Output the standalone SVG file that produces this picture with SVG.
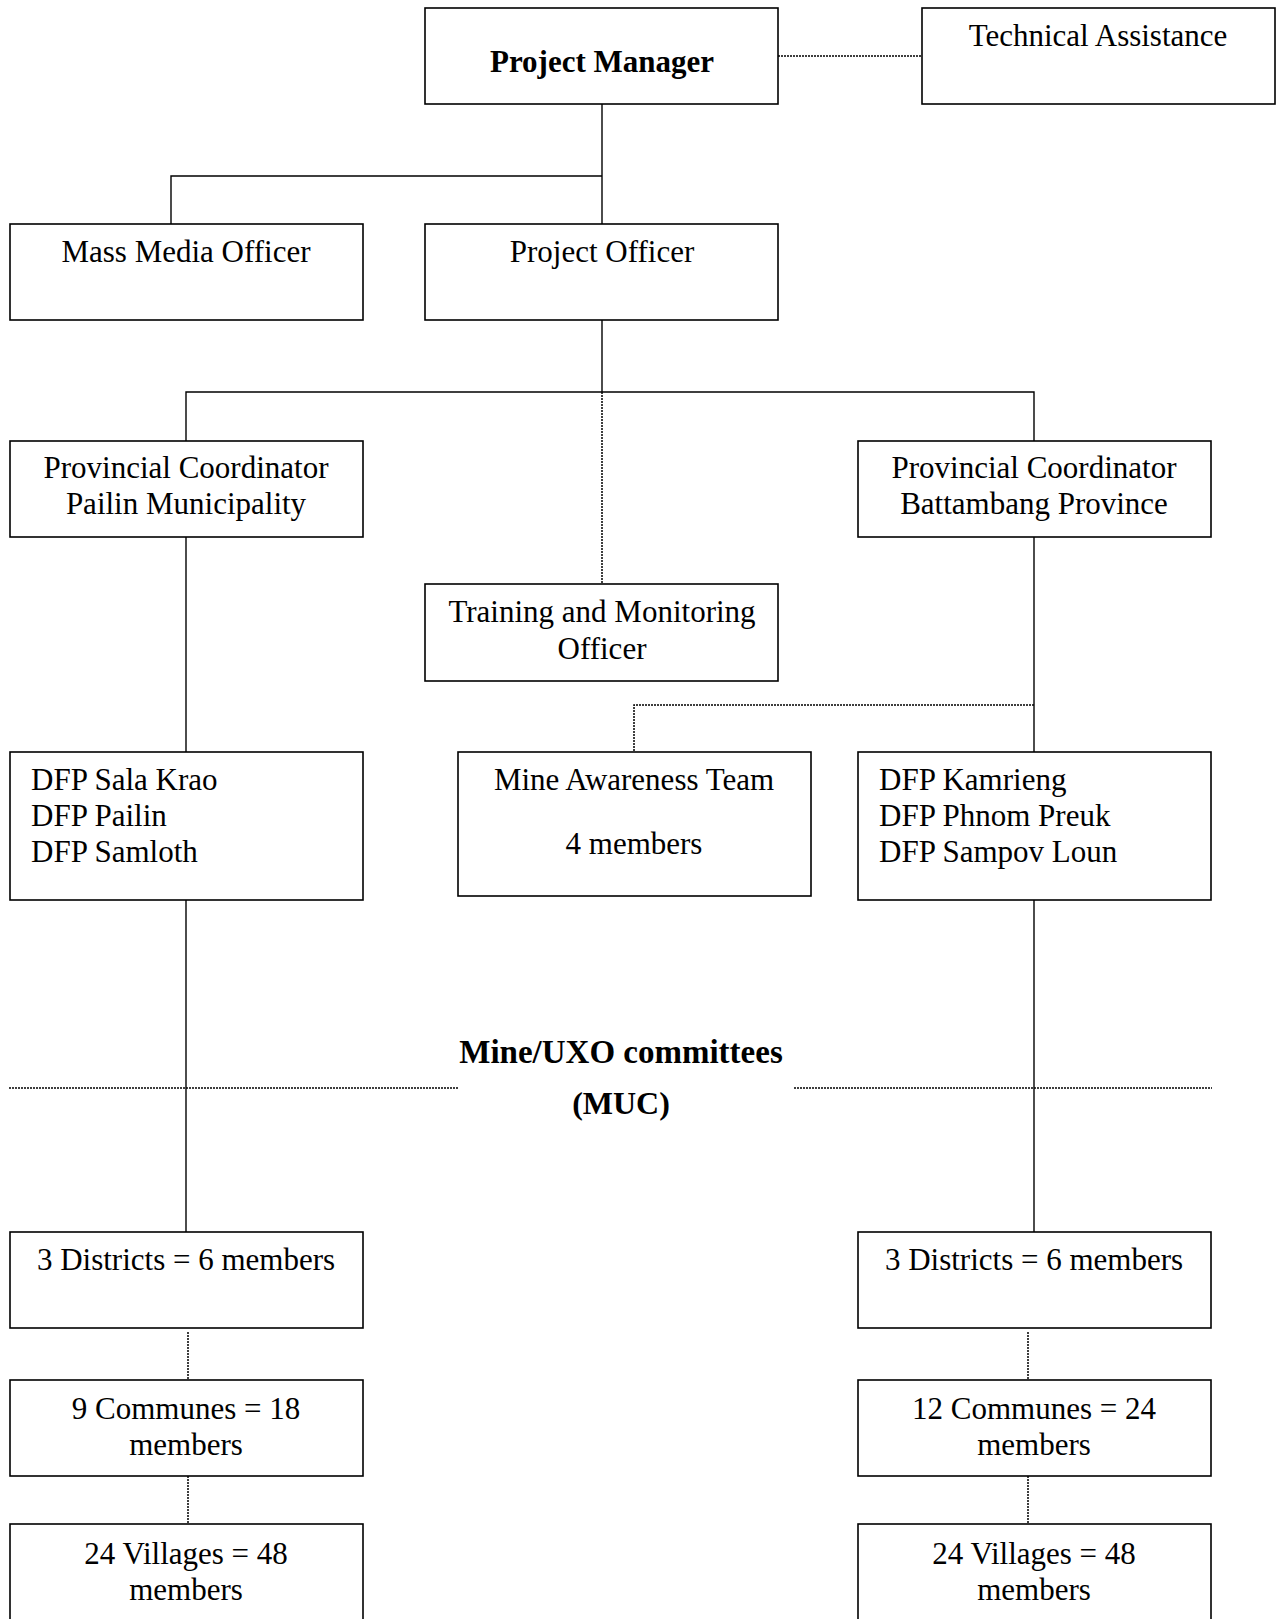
<svg xmlns="http://www.w3.org/2000/svg" width="1278" height="1619" viewBox="0 0 1278 1619">
<style>
.box{fill:#fff;stroke:#000;stroke-width:1.6}
.t{font-family:"Liberation Serif","Times New Roman",serif;font-size:31px;fill:#000}
.c{text-anchor:middle}
.b{font-weight:bold}
.ln{stroke:#000;stroke-width:1.4;fill:none}
.dt{stroke:#000;stroke-width:1.5;fill:none;stroke-dasharray:2 1}
</style>
<rect width="1278" height="1619" fill="#fff"/>
<g id="connectors">
<line class="dt" x1="778" y1="56" x2="922" y2="56"/>
<polyline class="ln" points="602,104 602,224"/>
<polyline class="ln" points="602,176 171,176 171,224"/>
<polyline class="ln" points="602,320 602,392"/>
<polyline class="ln" points="186,441 186,392 1034,392 1034,441"/>
<line class="dt" x1="602" y1="392" x2="602" y2="584"/>
<line class="ln" x1="186" y1="537" x2="186" y2="752"/>
<line class="ln" x1="1034" y1="537" x2="1034" y2="752"/>
<polyline class="dt" points="1034,705 634,705 634,752"/>
<line class="ln" x1="186" y1="900" x2="186" y2="1232"/>
<line class="ln" x1="1034" y1="900" x2="1034" y2="1232"/>
<line class="dt" x1="9" y1="1088" x2="459" y2="1088"/>
<line class="dt" x1="794" y1="1088" x2="1212" y2="1088"/>
<line class="dt" x1="188" y1="1332" x2="188" y2="1380"/>
<line class="dt" x1="1028" y1="1332" x2="1028" y2="1380"/>
<line class="dt" x1="188" y1="1476" x2="188" y2="1524"/>
<line class="dt" x1="1028" y1="1476" x2="1028" y2="1524"/>
</g>
<g id="project-manager"><rect class="box" x="425" y="8" width="353" height="96"/><text class="t c b" x="602" y="72">Project Manager</text></g>
<g id="technical-assistance"><rect class="box" x="922" y="8" width="353" height="96"/><text class="t c" x="1098" y="46">Technical Assistance</text></g>
<g id="mass-media-officer"><rect class="box" x="10" y="224" width="353" height="96"/><text class="t c" x="186" y="262">Mass Media Officer</text></g>
<g id="project-officer"><rect class="box" x="425" y="224" width="353" height="96"/><text class="t c" x="602" y="262">Project Officer</text></g>
<g id="pc-pailin"><rect class="box" x="10" y="441" width="353" height="96"/><text class="t c" x="186" y="478">Provincial Coordinator</text><text class="t c" x="186" y="514">Pailin Municipality</text></g>
<g id="pc-battambang"><rect class="box" x="858" y="441" width="353" height="96"/><text class="t c" x="1034" y="478">Provincial Coordinator</text><text class="t c" x="1034" y="514">Battambang Province</text></g>
<g id="training-officer"><rect class="box" x="425" y="584" width="353" height="97"/><text class="t c" x="602" y="622">Training and Monitoring</text><text class="t c" x="602" y="659">Officer</text></g>
<g id="dfp-left"><rect class="box" x="10" y="752" width="353" height="148"/><text class="t" x="31" y="790">DFP Sala Krao</text><text class="t" x="31" y="826">DFP Pailin</text><text class="t" x="31" y="862">DFP Samloth</text></g>
<g id="mine-awareness-team"><rect class="box" x="458" y="752" width="353" height="144"/><text class="t c" x="634" y="790">Mine Awareness Team</text><text class="t c" x="634" y="854">4 members</text></g>
<g id="dfp-right"><rect class="box" x="858" y="752" width="353" height="148"/><text class="t" x="879" y="790">DFP Kamrieng</text><text class="t" x="879" y="826">DFP Phnom Preuk</text><text class="t" x="879" y="862">DFP Sampov Loun</text></g>
<g id="muc-label"><text class="t c b" x="621" y="1063" style="font-size:33px">Mine/UXO committees</text><text class="t c b" x="621" y="1114" style="font-size:32px">(MUC)</text></g>
<g id="districts-left"><rect class="box" x="10" y="1232" width="353" height="96"/><text class="t c" x="186" y="1270">3 Districts = 6 members</text></g>
<g id="districts-right"><rect class="box" x="858" y="1232" width="353" height="96"/><text class="t c" x="1034" y="1270">3 Districts = 6 members</text></g>
<g id="communes-left"><rect class="box" x="10" y="1380" width="353" height="96"/><text class="t c" x="186" y="1419">9 Communes = 18</text><text class="t c" x="186" y="1455">members</text></g>
<g id="communes-right"><rect class="box" x="858" y="1380" width="353" height="96"/><text class="t c" x="1034" y="1419">12 Communes = 24</text><text class="t c" x="1034" y="1455">members</text></g>
<g id="villages-left"><rect class="box" x="10" y="1524" width="353" height="110"/><text class="t c" x="186" y="1564">24 Villages = 48</text><text class="t c" x="186" y="1600">members</text></g>
<g id="villages-right"><rect class="box" x="858" y="1524" width="353" height="110"/><text class="t c" x="1034" y="1564">24 Villages = 48</text><text class="t c" x="1034" y="1600">members</text></g>
</svg>
